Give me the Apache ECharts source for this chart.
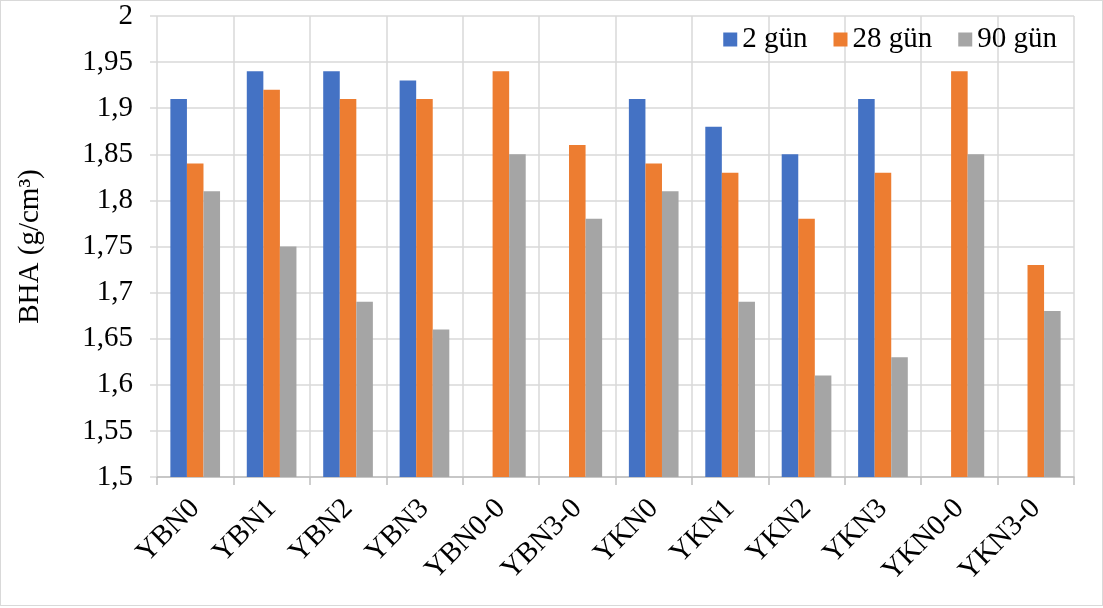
<!DOCTYPE html>
<html>
<head>
<meta charset="utf-8">
<title>BHA</title>
<script src="https://cdn.jsdelivr.net/npm/echarts@6/dist/echarts.min.js"></script>
<style>
  html, body { margin: 0; padding: 0; background: #fff; }
  #chart { width: 1101px; height: 604px; border: 1px solid #D9D9D9; }
</style>
</head>
<body>
<div id="chart"></div>
<script>
// Mix names along the category axis
const categories = ['YBN0', 'YBN1', 'YBN2', 'YBN3', 'YBN0-0', 'YBN3-0',
                    'YKN0', 'YKN1', 'YKN2', 'YKN3', 'YKN0-0', 'YKN3-0'];

// Unit weight (g/cm³) per curing age; 0 = not measured
const day2  = [1.91, 1.94, 1.94, 1.93, 0, 0, 1.91, 1.88, 1.85, 1.91, 0, 0];
const day28 = [1.84, 1.92, 1.91, 1.91, 1.94, 1.86, 1.84, 1.83, 1.78, 1.83, 1.94, 1.73];
const day90 = [1.81, 1.75, 1.69, 1.66, 1.85, 1.78, 1.81, 1.69, 1.61, 1.63, 1.85, 1.68];

const seriesNames = ['2 gün', '28 gün', '90 gün'];
const yMin = 1.5, yMax = 2, yStep = 0.05;

const FONT = '"Liberation Serif", "Times New Roman", serif';
const FS = 29;
const GRID = '#D9D9D9';

const chart = echarts.init(document.getElementById('chart'));

function barSeries(name, data, color) {
  return {
    name: name,
    type: 'bar',
    data: data,
    barGap: '0%',
    barCategoryGap: '35%',
    itemStyle: { color: color },
    emphasis: { disabled: true }
  };
}

chart.setOption({
  animation: false,
  textStyle: { fontFamily: FONT, color: '#000' },
  grid: { left: 156, right: 28, top: 15, bottom: 128 },
  legend: {
    top: 19,
    right: 40,
    itemWidth: 14,
    itemHeight: 14,
    itemGap: 26,
    icon: 'rect',
    textStyle: { fontFamily: FONT, fontSize: FS, color: '#000' },
    data: seriesNames
  },
  xAxis: {
    type: 'category',
    data: categories,
    axisLine: { lineStyle: { color: '#BFBFBF', width: 1.5 } },
    axisTick: { show: true, length: 8, lineStyle: { color: '#BFBFBF', width: 1.5 } },
    splitLine: { show: true, lineStyle: { color: GRID, width: 1.5 } },
    axisLabel: {
      rotate: 45,
      margin: 27,
      interval: 0,
      fontFamily: FONT,
      fontSize: FS,
      color: '#000'
    }
  },
  yAxis: {
    type: 'value',
    min: yMin,
    max: yMax,
    interval: yStep,
    name: 'BHA (g/cm³)',
    nameLocation: 'middle',
    nameRotate: 90,
    nameGap: 112,
    nameTextStyle: { fontFamily: FONT, fontSize: FS, color: '#000' },
    axisLine: { show: false },
    axisTick: { show: true, length: 7, lineStyle: { color: GRID, width: 1.5 } },
    splitLine: { show: true, lineStyle: { color: GRID, width: 1.5 } },
    axisLabel: {
      margin: 24,
      fontFamily: FONT,
      fontSize: FS,
      color: '#000',
      formatter: v => String(+v.toFixed(2)).replace('.', ',')
    }
  },
  series: [
    barSeries(seriesNames[0], day2, '#4472C4'),
    barSeries(seriesNames[1], day28, '#ED7D31'),
    barSeries(seriesNames[2], day90, '#A5A5A5')
  ]
});
</script>
</body>
</html>
